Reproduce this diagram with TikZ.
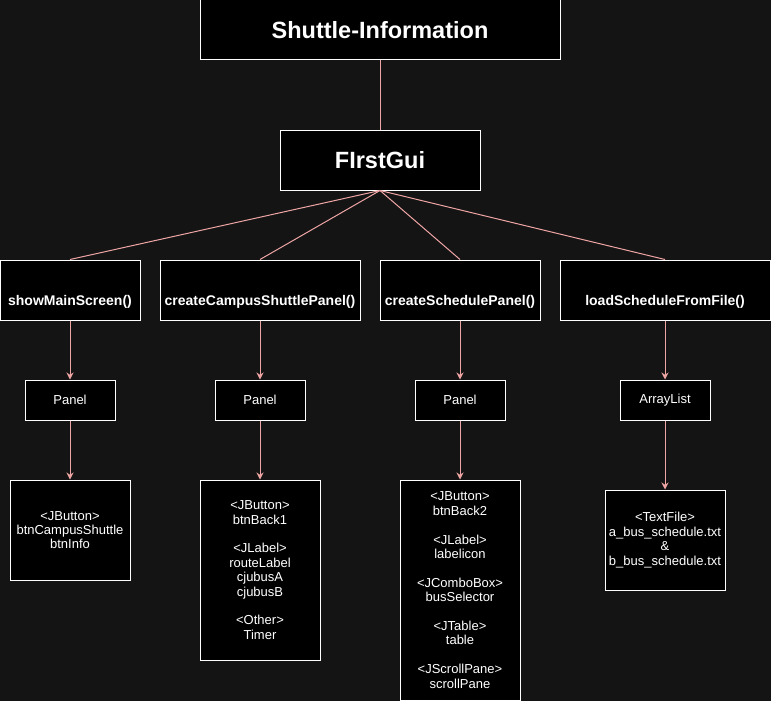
\documentclass[tikz,border=0pt]{standalone}
\usepackage{fontspec}
\setmainfont{Liberation Sans}
\usetikzlibrary{arrows.meta}
\definecolor{bgdark}{RGB}{20,20,20}
\definecolor{linkpink}{RGB}{240,165,165}
\begin{document}
\begin{tikzpicture}[x=1pt,y=-1pt,
  box/.style={draw=white,fill=black,line width=1pt,inner sep=0pt,text=white,align=center},
  method/.style={box,minimum height=60pt,font=\fontsize{14}{17}\bfseries,text height=31pt,text depth=0pt},
  holder/.style={box,minimum width=90pt,minimum height=40pt,font=\fontsize{13}{15}\selectfont},
  content/.style={box,minimum width=120pt,font=\fontsize{13}{14.4}\selectfont},
  link/.style={draw=linkpink,line width=1pt},
  >={Stealth[length=7pt,width=7pt]}]
\fill[bgdark] (0,0) rectangle (771,701);
\useasboundingbox (0,0) rectangle (771,701);

% top
\node[box,minimum width=360pt,minimum height=60pt,font=\fontsize{23.5}{28}\bfseries] (info) at (380,30) {Shuttle-Information};
\node[box,minimum width=200pt,minimum height=60pt,font=\fontsize{23.5}{28}\bfseries] (gui) at (380,160) {FIrstGui};
\draw[link] (info.south)--(gui.north);

% methods
\node[method,minimum width=140pt] (main) at (70,290) {showMainScreen()};
\node[method,minimum width=200pt] (campus) at (260,290) {createCampusShuttlePanel()};
\node[method,minimum width=160pt] (sched) at (460,290) {createSchedulePanel()};
\node[method,minimum width=210pt] (load) at (665,290) {loadScheduleFromFile()};
\foreach \m in {main,campus,sched,load}
  \draw[link] (gui.south)--(\m.north);

% holders
\node[holder] (pmain) at (70,400) {Panel};
\node[holder] (pcampus) at (260,400) {Panel};
\node[holder] (psched) at (460,400) {Panel};
\node[holder] (list) at (665,400) {ArrayList};
\draw[link,->] (main.south)--(pmain.north);
\draw[link,->] (campus.south)--(pcampus.north);
\draw[link,->] (sched.south)--(psched.north);
\draw[link,->] (load.south)--(list.north);

% components
\node[content,minimum height=100pt] (cmain) at (70,530)
  {<JButton>\\btnCampusShuttle\\btnInfo};
\node[content,minimum height=180pt] (ccampus) at (260,570)
  {<JButton>\\btnBack1\\[14.4pt]<JLabel>\\routeLabel\\cjubusA\\cjubusB\\[14.4pt]<Other>\\Timer};
\node[content,minimum height=220pt] (csched) at (460,590)
  {<JButton>\\btnBack2\\[14.4pt]<JLabel>\\labelicon\\[14.4pt]<JComboBox>\\busSelector\\[14.4pt]<JTable>\\table\\[14.4pt]<JScrollPane>\\scrollPane};
\node[content,minimum height=100pt] (files) at (665,540)
  {<TextFile>\\a\_bus\_schedule.txt\\\&\\b\_bus\_schedule.txt};
\draw[link,->] (pmain.south)--(cmain.north);
\draw[link,->] (pcampus.south)--(ccampus.north);
\draw[link,->] (psched.south)--(csched.north);
\draw[link,->] (list.south)--(files.north);
\end{tikzpicture}
\end{document}
